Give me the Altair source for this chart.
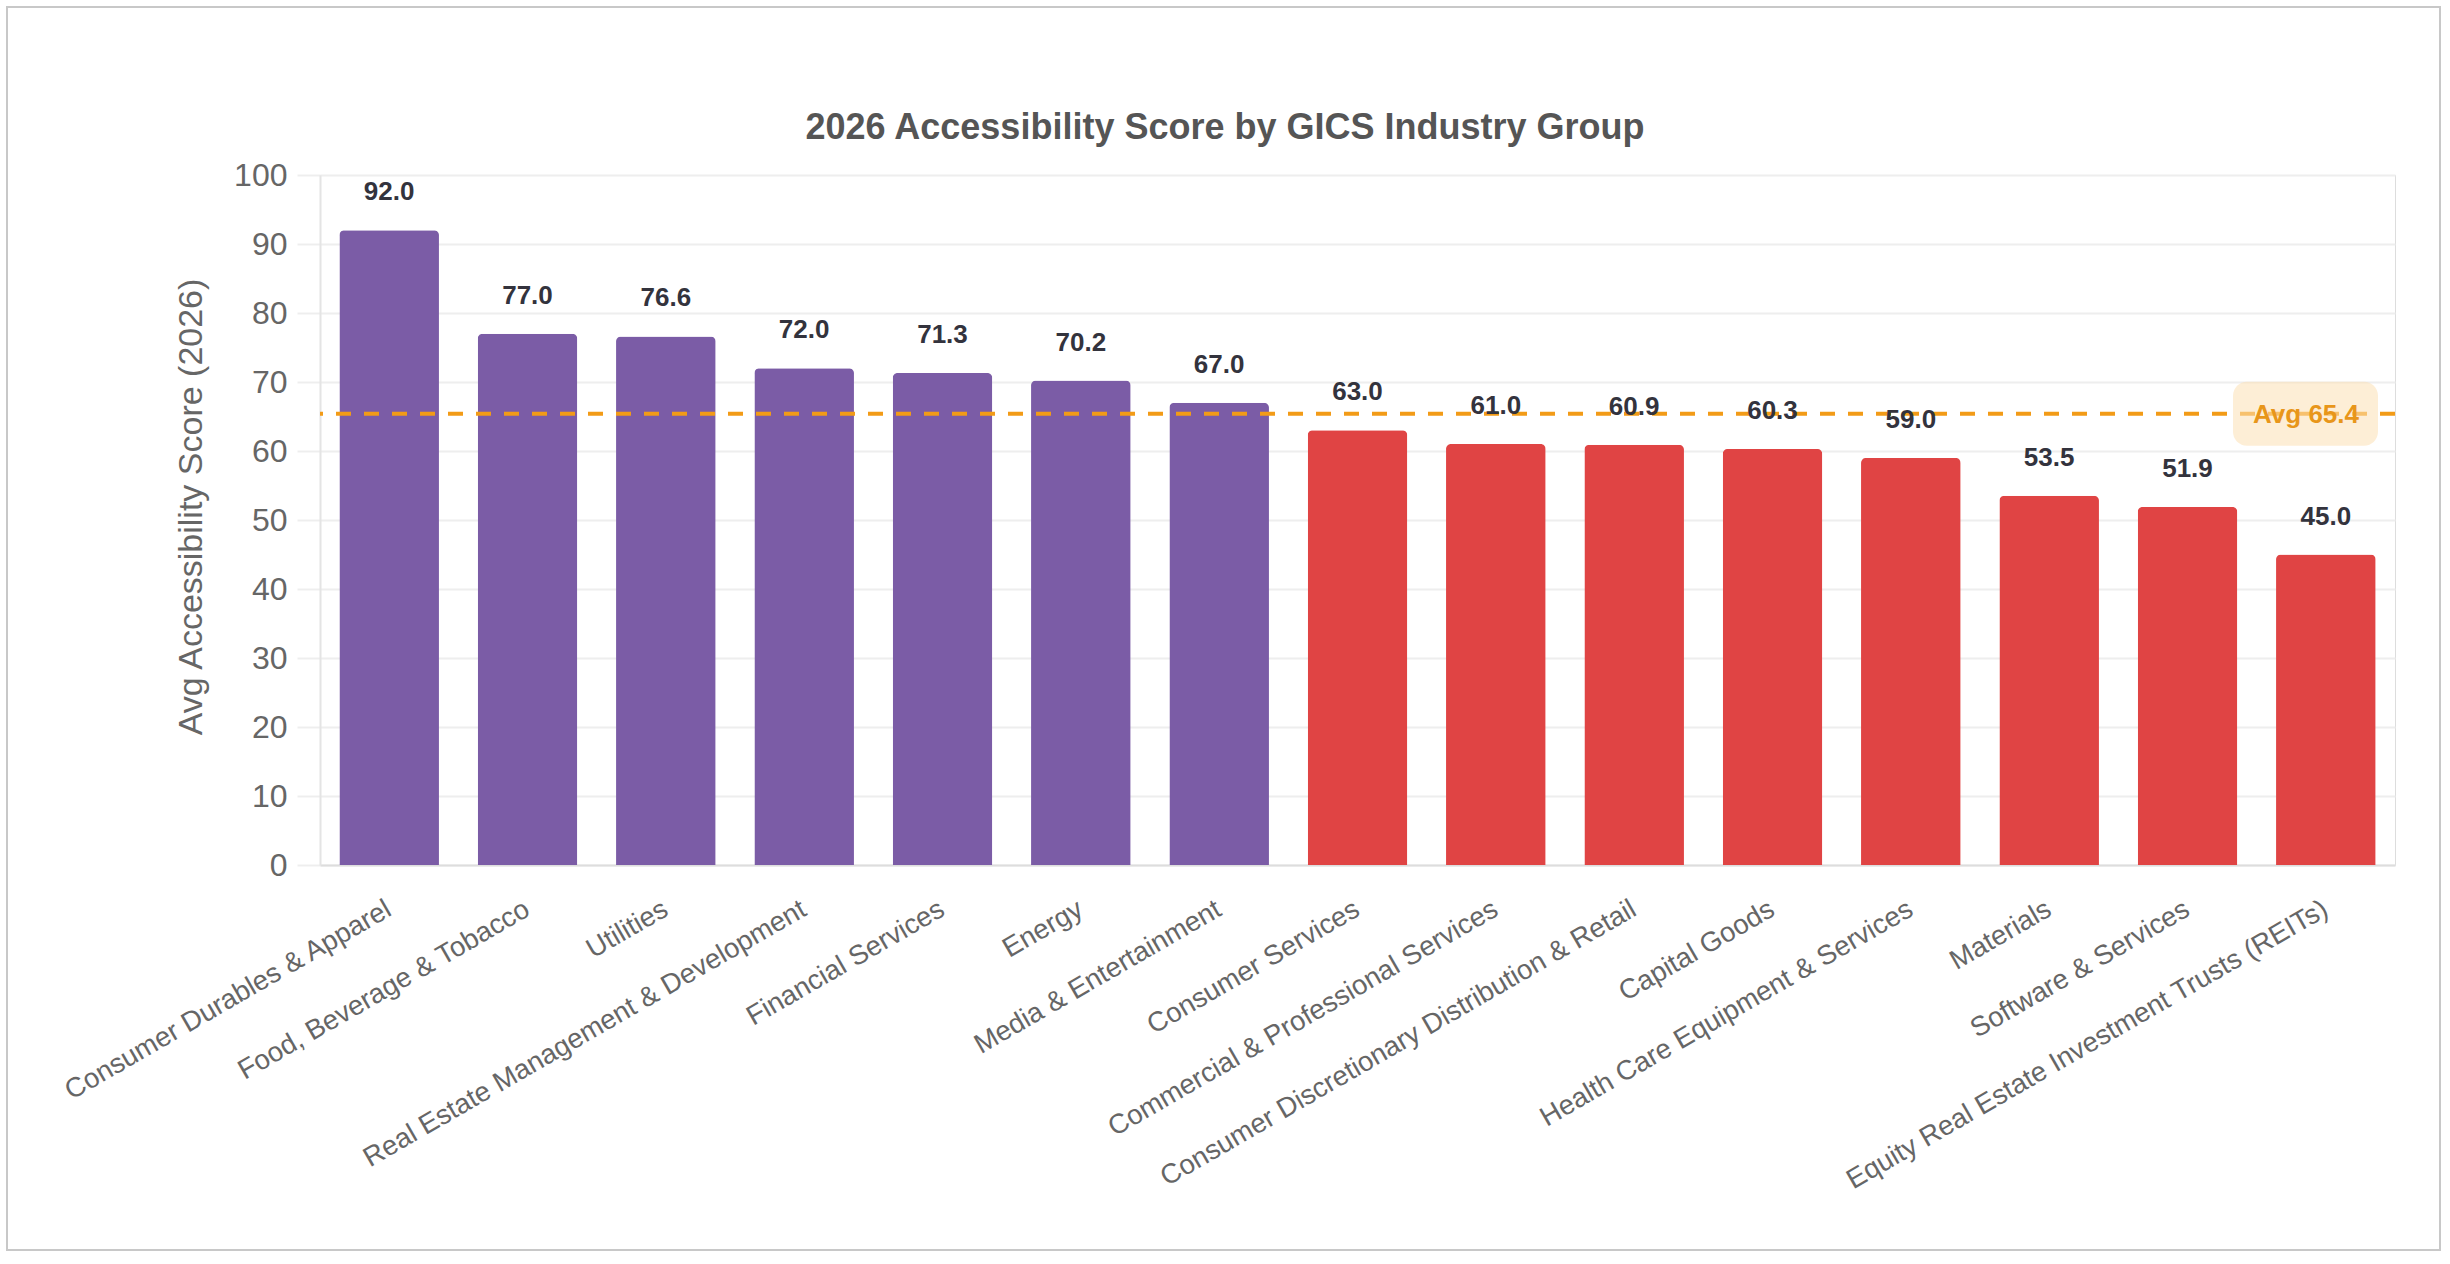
import altair as alt
import pandas as pd

categories = [
    "Consumer Durables & Apparel",
    "Food, Beverage & Tobacco",
    "Utilities",
    "Real Estate Management & Development",
    "Financial Services",
    "Energy",
    "Media & Entertainment",
    "Consumer Services",
    "Commercial & Professional Services",
    "Consumer Discretionary Distribution & Retail",
    "Capital Goods",
    "Health Care Equipment & Services",
    "Materials",
    "Software & Services",
    "Equity Real Estate Investment Trusts (REITs)",
]
scores = [92.0, 77.0, 76.6, 72.0, 71.3, 70.2, 67.0, 63.0, 61.0, 60.9, 60.3, 59.0, 53.5, 51.9, 45.0]
average = 65.4
avg_label = "Avg 65.4"
chart_title = "2026 Accessibility Score by GICS Industry Group"
y_title = "Avg Accessibility Score (2026)"
groups = ["Above average" if s >= average else "Below average" for s in scores]

FONT = "Liberation Sans, Arial, Helvetica, sans-serif"
W, H = 2075, 690

df = pd.DataFrame({"group_name": categories, "score": scores, "group": groups})
avg_df = pd.DataFrame({"avg": [average], "label": [avg_label], "title": [chart_title], "ytitle": [y_title]})

x_enc = alt.X(
    "group_name:N",
    sort=categories,
    scale=alt.Scale(paddingInner=0.28, paddingOuter=0.14),
    axis=alt.Axis(
        title=None,
        labelAngle=-30,
        labelAlign="right",
        labelBaseline="middle",
        labelFontSize=27.5,
        labelColor="#666666",
        labelFont=FONT,
        labelPadding=42,
        ticks=False,
        domainColor="#dddddd",
        domainWidth=2,
        grid=False,
        labelLimit=900,
    ),
)
y_scale = alt.Scale(domain=[0, 100], nice=False)
y_enc = alt.Y(
    "score:Q",
    scale=y_scale,
    axis=alt.Axis(
        title=None,
        values=list(range(0, 101, 10)),
        labelFontSize=32,
        labelColor="#666666",
        labelFont=FONT,
        labelPadding=10,
        tickSize=23,
        tickColor="#eeeeee",
        tickWidth=2,
        gridColor="#eeeeee",
        gridWidth=2,
        domainColor="#e4e4e4",
        domainWidth=2,
    ),
)

bars = alt.Chart(df).mark_bar(
    cornerRadiusTopLeft=5, cornerRadiusTopRight=5
).encode(
    x=x_enc,
    y=y_enc,
    color=alt.Color(
        "group:N",
        scale=alt.Scale(domain=["Above average", "Below average"], range=["#7b5ca6", "#e04444"]),
        legend=None,
    ),
)

rule = alt.Chart(avg_df).mark_rule(
    color="#f29b17", strokeWidth=4, strokeDash=[15, 13]
).encode(y=alt.Y("avg:Q", scale=y_scale))

box = alt.Chart(avg_df).mark_rect(
    color="#fbe0b4", opacity=0.55, cornerRadius=14, yOffset=-32, y2Offset=32
).encode(
    x=alt.value(W - 162), x2=alt.value(W - 17),
    y=alt.Y("avg:Q", scale=y_scale), y2="avg:Q",
)
box_text = alt.Chart(avg_df).mark_text(
    color="#e8961a", fontSize=26, fontWeight="bold", font=FONT, align="center", baseline="middle", dy=1
).encode(
    x=alt.value(W - 89),
    y=alt.Y("avg:Q", scale=y_scale),
    text="label:N",
)

values = alt.Chart(df).mark_text(
    fontSize=26, fontWeight="bold", color="#33333d", font=FONT, baseline="middle", dy=-38
).encode(
    x=alt.X("group_name:N", sort=categories),
    y=alt.Y("score:Q", scale=y_scale),
    text=alt.Text("score:Q", format=".1f"),
)

title = alt.Chart(avg_df).mark_text(
    fontSize=36, fontWeight="bold", color="#555555", font=FONT, align="center", baseline="middle"
).encode(x=alt.value(905), y=alt.value(-47), text="title:N")

ytitle = alt.Chart(avg_df).mark_text(
    fontSize=34, color="#666666", font=FONT, align="center", baseline="middle", angle=270
).encode(x=alt.value(-128), y=alt.value(332), text="ytitle:N")

frame = alt.Chart(avg_df).mark_rect(
    fill="transparent", stroke="#c8c8c8", strokeWidth=2
).encode(
    x=alt.value(-313), x2=alt.value(2120), y=alt.value(-168), y2=alt.value(1075)
)

chart = alt.layer(frame, bars, rule, box, box_text, values, title, ytitle).properties(
    width=W,
    height=H,
    autosize=alt.AutoSizeParams(type="none"),
    padding={"left": 320, "top": 175, "right": 55, "bottom": 399},
).configure_view(stroke=None).configure(background="white")

chart.save("out.html", embed_options={"renderer": "svg", "actions": False})
